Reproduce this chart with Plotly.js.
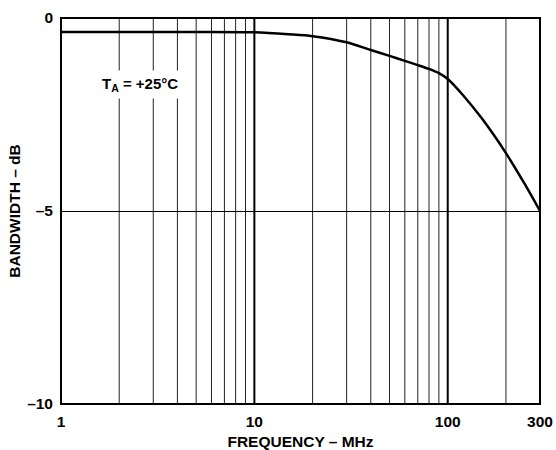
<!DOCTYPE html>
<html>
<head>
<meta charset="utf-8">
<script src="https://cdn.plot.ly/plotly-3.0.1.min.js"></script>
<style>html,body{margin:0;padding:0;background:#fff;}#chart{width:556px;height:450px;}</style>
</head>
<body>
<div id="chart"></div>
<script>
// Data
const freqMHz = [1, 2, 5, 10, 15, 20, 30, 40, 50, 60, 70, 80, 90, 100, 120, 150, 200, 250, 300];
const bandwidthDb = [-0.36, -0.36, -0.36, -0.37, -0.42, -0.47, -0.63, -0.83, -0.98, -1.11, -1.22, -1.32, -1.43, -1.58, -2.0, -2.6, -3.5, -4.3, -5.0];
const minorGridX = [2, 3, 4, 5, 6, 7, 8, 9, 20, 30, 40, 50, 60, 70, 80, 90, 200];
const majorGridX = [10, 100];
const xTickVals = [1, 10, 100, 300];
const xTickText = ['1', '10', '100', '300'];
const yTickVals = [0, -5, -10];
const yTickText = ['0', '\u20135', '\u201310'];

const font = {family: 'Liberation Sans, Arial, sans-serif', size: 15.5, color: '#000'};

const shapes = [];
minorGridX.forEach(v => shapes.push({type: 'line', xref: 'x', yref: 'paper', x0: v, x1: v, y0: 0, y1: 1, line: {color: '#222', width: 1}, layer: 'below'}));
majorGridX.forEach(v => shapes.push({type: 'line', xref: 'x', yref: 'paper', x0: v, x1: v, y0: 0, y1: 1, line: {color: '#000', width: 2}, layer: 'below'}));
shapes.push({type: 'rect', xref: 'paper', yref: 'paper', x0: 0, x1: 1, y0: 0, y1: 1, line: {color: '#000', width: 2}});

const trace = {
  x: freqMHz, y: bandwidthDb, type: 'scatter', mode: 'lines',
  line: {color: '#000', width: 2.5, shape: 'spline', smoothing: 0.8},
  hoverinfo: 'skip', showlegend: false
};

const layout = {
  width: 556, height: 450,
  margin: {l: 61, r: 16, t: 18, b: 46},
  paper_bgcolor: '#fff', plot_bgcolor: '#fff',
  font: font,
  xaxis: {
    type: 'log', range: [0, Math.log10(300)],
    tickmode: 'array', tickvals: xTickVals, ticktext: xTickText,
    showgrid: false, zeroline: false, showline: false, ticks: '',
    ticklabelstandoff: 6,
    tickfont: {family: font.family, size: 15.5, color: '#000', weight: 'bold'},
    title: {text: '<b>FREQUENCY \u2013 MHz</b>', font: {family: font.family, size: 15.5, color: '#000'}, standoff: 8},
    automargin: false, fixedrange: true
  },
  yaxis: {
    range: [-10, 0],
    tickmode: 'array', tickvals: yTickVals, ticktext: yTickText,
    showgrid: true, gridcolor: '#000', gridwidth: 1, zeroline: false, showline: false, ticks: '',
    ticklabelstandoff: 7,
    tickfont: {family: font.family, size: 15.5, color: '#000', weight: 'bold'},
    title: {text: '<b>BANDWIDTH \u2013 dB</b>', font: {family: font.family, size: 15.5, color: '#000'}, standoff: 2},
    automargin: false, fixedrange: true
  },
  shapes: shapes,
  annotations: [{
    x: Math.log10(2.55), y: -1.71, xref: 'x', yref: 'y', xanchor: 'center',
    text: '<b>T<sub>A</sub> = +25°C</b>', showarrow: false,
    font: {family: font.family, size: 15, color: '#000'},
    bgcolor: '#fff', borderpad: 4
  }]
};

Plotly.newPlot('chart', [trace], layout, {staticPlot: true, displayModeBar: false});
</script>
</body>
</html>
